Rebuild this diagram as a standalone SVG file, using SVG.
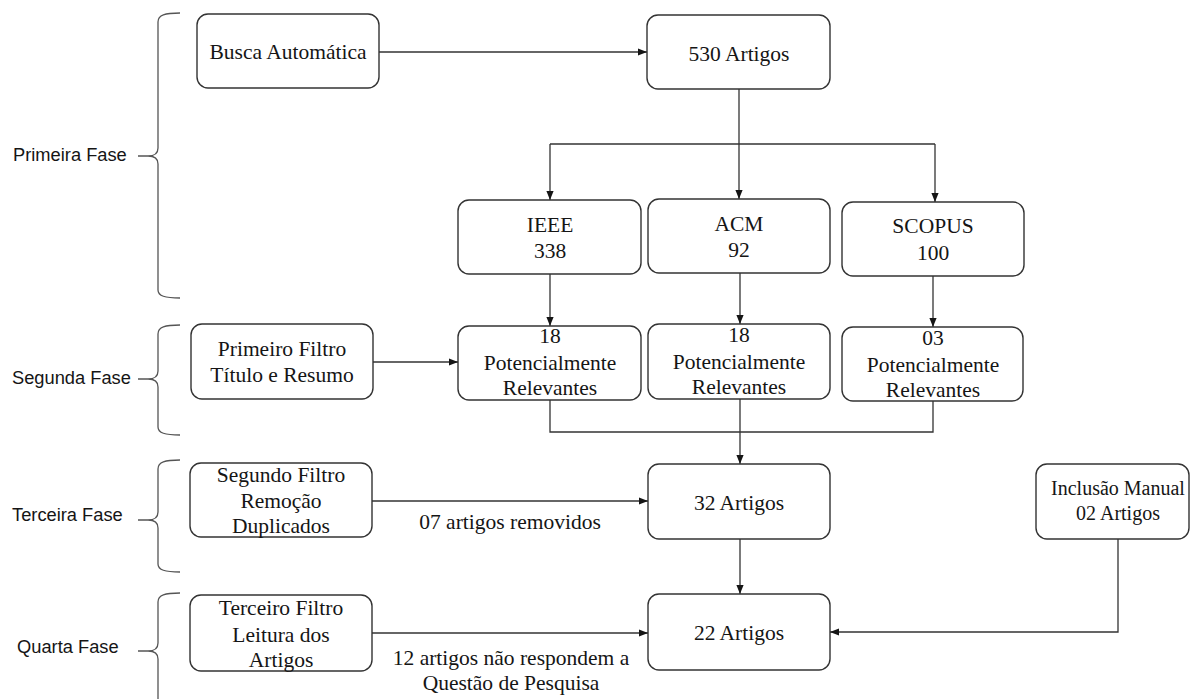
<svg xmlns="http://www.w3.org/2000/svg" width="1190" height="699" viewBox="0 0 1190 699">
<style>
.box{fill:#fff;stroke:#333;stroke-width:1.4}
.t{font-family:"Liberation Serif","Times New Roman",serif;font-size:21.5px;fill:#151515;text-anchor:middle}
.s{font-family:"Liberation Sans",Arial,sans-serif;font-size:18.3px;fill:#151515}
.c{fill:none;stroke:#333;stroke-width:1.3}
.br{fill:none;stroke:#555;stroke-width:1.3}
</style>
<defs>
<marker id="ah" viewBox="0 0 10 10" refX="10" refY="5" markerWidth="9" markerHeight="9" markerUnits="userSpaceOnUse" orient="auto">
<path d="M0,1 L10,5 L0,9 z" fill="#151515"/>
</marker>
</defs>
<rect width="1190" height="699" fill="#fff"/>

<g id="phases">
<path class="br" d="M180,13 C165,13 158,15 158,22 L158,148 C158,153 155,156 148,156 L138,156 M148,156 C155,156 158,159 158,164 L158,290 C158,296 165,298 180,298"/>
<text class="s" x="13" y="161">Primeira Fase</text>
<path class="br" d="M180,325 C165,325 158,327 158,334 L158,371 C158,376 155,379 148,379 L138,379 M148,379 C155,379 158,382 158,387 L158,427 C158,433 165,435 180,435"/>
<text class="s" x="12" y="384">Segunda Fase</text>
<path class="br" d="M180,460 C165,460 158,462 158,469 L158,512 C158,517 155,520 148,520 L138,520 M148,520 C155,520 158,523 158,528 L158,564 C158,570 165,572 180,572"/>
<text class="s" x="12" y="521">Terceira Fase</text>
<path class="br" d="M180,593 C165,593 158,595 158,602 L158,643 C158,648 155,651 148,651 L138,651 M148,651 C155,651 158,654 158,659 L158,699"/>
<text class="s" x="17" y="653">Quarta Fase</text>
</g>

<g id="connectors">
<line class="c" x1="379" y1="52" x2="647" y2="52" marker-end="url(#ah)"/>
<line class="c" x1="739" y1="89" x2="739" y2="144"/>
<polyline class="c" points="550,144 935,144"/>
<line class="c" x1="550" y1="144" x2="550" y2="200" marker-end="url(#ah)"/>
<line class="c" x1="739" y1="144" x2="739" y2="199" marker-end="url(#ah)"/>
<line class="c" x1="935" y1="144" x2="935" y2="202" marker-end="url(#ah)"/>
<line class="c" x1="550" y1="274" x2="550" y2="326" marker-end="url(#ah)"/>
<line class="c" x1="740" y1="272" x2="740" y2="324" marker-end="url(#ah)"/>
<line class="c" x1="933" y1="276" x2="933" y2="327" marker-end="url(#ah)"/>
<line class="c" x1="373" y1="362" x2="458" y2="362" marker-end="url(#ah)"/>
<polyline class="c" points="550,400 550,432 933,432 933,401"/>
<line class="c" x1="740" y1="399" x2="740" y2="464" marker-end="url(#ah)"/>
<line class="c" x1="372" y1="501" x2="648" y2="501" marker-end="url(#ah)"/>
<line class="c" x1="740" y1="539" x2="740" y2="594" marker-end="url(#ah)"/>
<line class="c" x1="372" y1="633" x2="648" y2="633" marker-end="url(#ah)"/>
<polyline class="c" points="1118,539 1118,632 830,632" marker-end="url(#ah)"/>
<text class="t" x="510" y="529">07 artigos removidos</text>
<text class="t" x="511" y="665">12 artigos não respondem a</text>
<text class="t" x="511" y="690">Questão de Pesquisa</text>
</g>

<g id="busca">
<rect class="box" x="197" y="14" width="182" height="74" rx="11"/>
<text class="t" x="288" y="59">Busca Automática</text>
</g>
<g id="n530">
<rect class="box" x="647" y="15" width="183" height="74" rx="11"/>
<text class="t" x="739" y="61">530 Artigos</text>
</g>
<g id="ieee">
<rect class="box" x="458" y="200" width="183" height="74" rx="11"/>
<text class="t" x="550" y="232">IEEE</text>
<text class="t" x="550" y="258">338</text>
</g>
<g id="acm">
<rect class="box" x="648" y="199" width="182" height="74" rx="11"/>
<text class="t" x="739" y="231">ACM</text>
<text class="t" x="739" y="257">92</text>
</g>
<g id="scopus">
<rect class="box" x="842" y="202" width="182" height="74" rx="11"/>
<text class="t" x="933" y="233">SCOPUS</text>
<text class="t" x="933" y="260">100</text>
</g>
<g id="filtro1">
<rect class="box" x="191" y="324" width="182" height="75" rx="11"/>
<text class="t" x="282" y="356">Primeiro Filtro</text>
<text class="t" x="282" y="382">Título e Resumo</text>
</g>
<g id="pr-ieee">
<rect class="box" x="458" y="326" width="183" height="74" rx="11"/>
<text class="t" x="550" y="343">18</text>
<text class="t" x="550" y="370">Potencialmente</text>
<text class="t" x="550" y="395">Relevantes</text>
</g>
<g id="pr-acm">
<rect class="box" x="648" y="324" width="182" height="75" rx="11"/>
<text class="t" x="739" y="342">18</text>
<text class="t" x="739" y="369">Potencialmente</text>
<text class="t" x="739" y="394">Relevantes</text>
</g>
<g id="pr-scopus">
<rect class="box" x="842" y="327" width="181" height="74" rx="11"/>
<text class="t" x="933" y="345">03</text>
<text class="t" x="933" y="372">Potencialmente</text>
<text class="t" x="933" y="397">Relevantes</text>
</g>
<g id="filtro2">
<rect class="box" x="190" y="463" width="182" height="74" rx="11"/>
<text class="t" x="281" y="482">Segundo Filtro</text>
<text class="t" x="281" y="508">Remoção</text>
<text class="t" x="281" y="533">Duplicados</text>
</g>
<g id="n32">
<rect class="box" x="648" y="464" width="182" height="75" rx="11"/>
<text class="t" x="739" y="510">32 Artigos</text>
</g>
<g id="manual">
<rect class="box" x="1036" y="464" width="153" height="75" rx="11"/>
<text class="t" x="1118" y="495" style="font-size:20px">Inclusão  Manual</text>
<text class="t" x="1118" y="520" style="font-size:20px">02 Artigos</text>
</g>
<g id="filtro3">
<rect class="box" x="190" y="595" width="182" height="76" rx="11"/>
<text class="t" x="281" y="615">Terceiro Filtro</text>
<text class="t" x="281" y="642">Leitura dos</text>
<text class="t" x="281" y="667">Artigos</text>
</g>
<g id="n22">
<rect class="box" x="648" y="594" width="182" height="76" rx="11"/>
<text class="t" x="739" y="640">22 Artigos</text>
</g>
</svg>
